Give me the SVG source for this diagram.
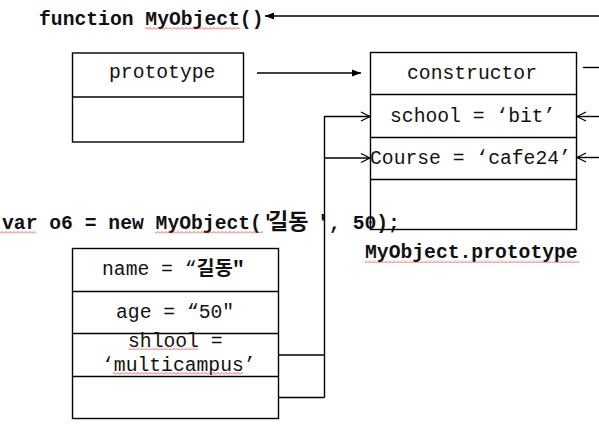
<svg xmlns="http://www.w3.org/2000/svg" width="599" height="444" viewBox="0 0 599 444">
<style>
.box{fill:#fff;stroke:#000;stroke-width:1.4}
.div{stroke:#000;stroke-width:1.4}
.ln{stroke:#000;stroke-width:1.4;fill:none}
.t{font-family:"Liberation Mono","Courier New",monospace;font-size:19.7px;fill:#111}
.b{font-weight:bold}
.k{font-family:"Noto Sans CJK KR",sans-serif;font-weight:bold}
.sq{fill:url(#wave)}
</style>
<defs>
<marker id="fa" markerWidth="10" markerHeight="8" refX="9" refY="4" orient="auto" markerUnits="userSpaceOnUse">
<path d="M0,0.5 L9,4 L0,7.5 z" fill="#000"/>
</marker>
<marker id="oa" markerWidth="12" markerHeight="12" refX="10" refY="6" orient="auto" markerUnits="userSpaceOnUse">
<path d="M1,1.5 L10,6 L1,10.5" fill="none" stroke="#000" stroke-width="1.2"/>
</marker>
<pattern id="wave" width="4" height="3" patternUnits="userSpaceOnUse">
<path d="M0,2.5 L2,0.5 L4,2.5" fill="none" stroke="#e03030" stroke-width="0.8"/>
</pattern>
</defs>
<rect width="599" height="444" fill="#fff"/>

<g id="func">
<text class="t b" x="39" y="25">function MyObject()</text>
<rect class="sq" x="145" y="27" width="95" height="3"/>
</g>

<g id="prototype-box">
<rect class="box" x="72.5" y="53" width="171" height="89"/>
<line class="div" x1="72.5" y1="97" x2="243.5" y2="97"/>
<text class="t" x="109" y="78">prototype</text>
</g>

<g id="myobject-prototype">
<rect class="box" x="370.5" y="52.5" width="206" height="177"/>
<line class="div" x1="370.5" y1="94.5" x2="576.5" y2="94.5"/>
<line class="div" x1="370.5" y1="137.5" x2="576.5" y2="137.5"/>
<line class="div" x1="370.5" y1="179.5" x2="576.5" y2="179.5"/>
<text class="t" x="407" y="79">constructor</text>
<text class="t" x="390" y="122">school = ‘bit’</text>
<text class="t" x="370" y="164">Course = ‘cafe24’</text>
</g>

<g id="proto-label">
<text class="t b" x="365" y="258">MyObject.prototype</text>
<rect class="sq" x="365" y="260" width="214" height="3"/>
</g>

<g id="var-line">
<text class="t b" x="2" y="229">var o6 = new MyObject('<tspan class="k" x="268" font-size="22">길동</tspan><tspan x="317">'</tspan><tspan x="329">, 50);</tspan></text>
<rect class="sq" x="0" y="231" width="36" height="3"/>
<rect class="sq" x="155" y="231" width="108" height="3"/>
</g>

<g id="o6-box">
<rect class="box" x="72.5" y="248.5" width="206" height="170"/>
<line class="div" x1="72.5" y1="291.5" x2="278.5" y2="291.5"/>
<line class="div" x1="72.5" y1="333.5" x2="278.5" y2="333.5"/>
<line class="div" x1="72.5" y1="376.5" x2="278.5" y2="376.5"/>
<text class="t" x="102" y="275">name = “<tspan class="k">길동"</tspan></text>
<text class="t" x="116" y="318">age = “50"</text>
<text class="t" x="128" y="347">shlool =</text>
<text class="t" x="102" y="371">‘multicampus’</text>
<rect class="sq" x="128" y="347" width="70" height="3"/>
<rect class="sq" x="113" y="372" width="130" height="3"/>
</g>

<g id="connectors">
<line class="ln" x1="599" y1="16" x2="265" y2="16" marker-end="url(#fa)"/>
<line class="ln" x1="257" y1="73" x2="361" y2="73" marker-end="url(#fa)"/>
<line class="ln" x1="583" y1="67.5" x2="599" y2="67.5"/>
<line class="ln" x1="599" y1="116.5" x2="577" y2="116.5" marker-end="url(#oa)"/>
<line class="ln" x1="599" y1="157.5" x2="577" y2="157.5" marker-end="url(#oa)"/>
<line class="ln" x1="324.5" y1="116.5" x2="370" y2="116.5" marker-end="url(#oa)"/>
<line class="ln" x1="324.5" y1="158" x2="370" y2="158" marker-end="url(#oa)"/>
<line class="ln" x1="324.5" y1="116" x2="324.5" y2="397.5"/>
<line class="ln" x1="278.5" y1="355" x2="324.5" y2="355"/>
<line class="ln" x1="278.5" y1="397.5" x2="324.5" y2="397.5"/>
</g>
</svg>
